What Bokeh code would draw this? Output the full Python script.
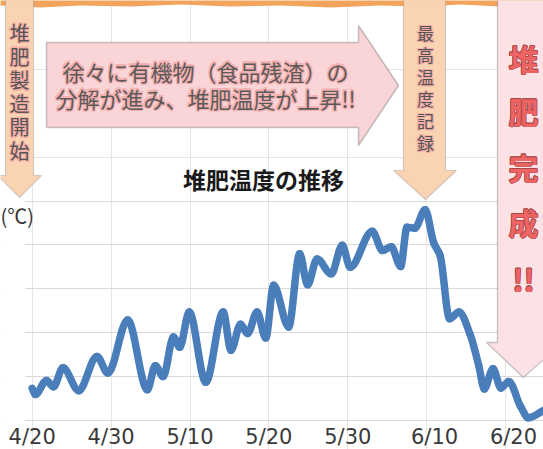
from bokeh.plotting import figure
from bokeh.models import Range1d, FixedTicker, Grid, Label, PolyAnnotation, LinearAxis, BoxAnnotation
from bokeh.embed import file_html
from bokeh.resources import INLINE

# ---------------- data ----------------
# days counted from 4/20, and compost temperature (deg C) at the curve's turning points
day_offset = [0.0, 0.4, 1.8, 2.7, 3.9, 5.9, 8.2, 9.6, 12.1, 14.6, 15.6, 16.6, 17.9, 18.7,
              19.9, 22.0, 24.2, 25.2, 26.4, 27.3, 28.5, 29.6, 30.6, 32.5, 33.9, 34.9,
              36.1, 37.9, 39.3, 40.3, 43.1, 44.4, 45.5, 46.7, 47.5, 48.5, 49.8, 50.9,
              51.7, 52.9, 54.1, 55.5, 56.6, 57.3, 58.4, 59.4, 60.4, 61.9, 62.9, 64.8]
temperature = [27.3, 25.9, 29.1, 27.7, 32.0, 26.8, 34.6, 30.8, 42.9, 27.0, 32.5, 30.0, 39.0, 36.7,
               44.7, 28.7, 44.7, 36.0, 41.9, 39.8, 44.7, 38.8, 50.8, 41.3, 58.0, 50.9,
               56.8, 53.4, 59.9, 54.9, 63.1, 58.7, 59.6, 55.1, 64.0, 63.8, 68.0, 60.4,
               57.6, 43.2, 44.7, 39.6, 32.5, 27.2, 31.8, 27.4, 28.9, 23.2, 20.6, 22.3]
tick_days = [0, 10, 20, 30, 40, 51, 61]
tick_labels = ["4/20", "4/30", "5/10", "5/20", "5/30", "6/10", "6/20"]
grid_temps = [20, 30, 40, 50, 60, 70]

# ---------------- layout constants ----------------
W, H = 543, 449
X0PX, PX_PER_DAY = 31.7, 7.89
Y20PX, PX_PER_DEG = 420.0, 4.39


def fx(px):
    return (px - X0PX) / PX_PER_DAY


def fy(py):
    return 20 + (Y20PX - py) / PX_PER_DEG


p = figure(width=W, height=H, output_backend="svg", toolbar_location=None,
           x_range=Range1d(fx(0), fx(W)), y_range=Range1d(fy(H), fy(0)),
           x_axis_location=None, y_axis_location=None,
           min_border_left=0, min_border_right=0, min_border_top=0,
           min_border_bottom=0,
           background_fill_color="white", border_fill_color="white",
           outline_line_color=None)

p.add_layout(Grid(dimension=1, ticker=FixedTicker(ticks=grid_temps),
                  grid_line_color="#d9d9d9", grid_line_width=1))
# the gridlines start at x = 25 px in the original
p.add_layout(BoxAnnotation(left=fx(-5), right=fx(25), bottom=fy(H + 5), top=fy(-5),
                           fill_color="white", fill_alpha=1.0, line_color=None,
                           level="underlay"))

xaxis = LinearAxis(ticker=FixedTicker(ticks=tick_days), fixed_location=grid_temps[0],
                   major_label_overrides={d: l for d, l in zip(tick_days, tick_labels)},
                   axis_line_color=None, major_tick_line_color=None,
                   minor_tick_line_color=None, major_tick_out=0, major_tick_in=0,
                   major_label_standoff=4, major_label_text_font_size="21px",
                   major_label_text_font="DejaVu Sans", major_label_text_color="#3a3a3a")
p.add_layout(xaxis, "below")

# ---------------- smooth line (monotone cubic through the read points) ----------------
n = len(day_offset)
h = [day_offset[i + 1] - day_offset[i] for i in range(n - 1)]
dl = [(temperature[i + 1] - temperature[i]) / h[i] for i in range(n - 1)]
m = [0.0] * n
m[0], m[-1] = dl[0], dl[-1]
for k in range(1, n - 1):
    if dl[k - 1] * dl[k] <= 0:
        m[k] = 0.0
    else:
        w1 = 2 * h[k] + h[k - 1]
        w2 = h[k] + 2 * h[k - 1]
        m[k] = (w1 + w2) / (w1 / dl[k - 1] + w2 / dl[k])
x0 = day_offset[:-1]; y0 = temperature[:-1]
x1 = day_offset[1:]; y1 = temperature[1:]
cx0 = [day_offset[i] + h[i] / 3 for i in range(n - 1)]
cy0 = [temperature[i] + m[i] * h[i] / 3 for i in range(n - 1)]
cx1 = [day_offset[i + 1] - h[i] / 3 for i in range(n - 1)]
cy1 = [temperature[i + 1] - m[i + 1] * h[i] / 3 for i in range(n - 1)]
p.bezier(x0=x0, y0=y0, x1=x1, y1=y1, cx0=cx0, cy0=cy0, cx1=cx1, cy1=cy1,
         line_color="#4a7ebb", line_width=7.5, line_cap="round", line_join="round")


# ---------------- decorations (given in pixel positions) ----------------
def poly(xs, ys, fill, line="#5a5a5a", lw=1.2):
    p.add_layout(PolyAnnotation(xs=[fx(v) for v in xs], ys=[fy(v) for v in ys],
                                fill_color=fill, fill_alpha=1.0, line_color=line,
                                line_width=lw, level="overlay"))


GLOW = [(-1, 0), (1, 0), (0, -1), (0, 1), (-0.8, -0.8), (0.8, 0.8), (-0.8, 0.8), (0.8, -0.8)]


def text(x, y, s, size, color, glow=None, bold=False, font="Noto Sans CJK JP",
         align="center", r=1.0):
    style = "bold" if bold else "normal"
    if glow:
        for dx, dy in GLOW:
            p.add_layout(Label(x=fx(x), y=fy(y), text=s,
                               x_offset=dx * r, y_offset=dy * r, text_font=font,
                               text_font_size=f"{size}px", text_color=glow,
                               text_font_style=style,
                               text_align=align, text_baseline="middle", level="overlay"))
    p.add_layout(Label(x=fx(x), y=fy(y), text=s,
                       text_font=font, text_font_size=f"{size}px", text_color=color,
                       text_font_style=style,
                       text_align=align, text_baseline="middle", level="overlay"))


# orange band at the top
poly([-2, 545, 545, 500, 460, 420, 380, 330, 280, 230, 180, 130, 80, 40, -2],
     [-2, -2, 5, 6, 4, 6, 5, 7, 5, 6, 4, 6, 5, 7, 5], "#f2a45c", line=None, lw=0)

# left arrow: 堆肥製造開始
poly([5, 33, 33, 41, 19, -3, 5], [-2, -2, 175, 175, 197, 175, 175], "#fad3b2", "#7a7a7a", 1.2)
for i, ch in enumerate("堆肥製造開始"):
    text(19, 32 + i * 23.6, ch, 20, "#555555", glow="#f6b0a8", r=1.3)

# long right-pointing arrow
poly([46, 358, 358, 398, 358, 358, 46], [42, 42, 25, 85, 145, 127, 127], "#fad5d8", "#4a4a4a", 1.5)
text(205, 70, "徐々に有機物（食品残渣）の", 22, "#5a5a5a", glow="#f5b0b0", r=1.3)
text(205, 97, "分解が進み、堆肥温度が上昇!!", 22, "#5a5a5a", glow="#f5b0b0", r=1.3)

# middle arrow: 最高温度記録
poly([403, 445, 445, 456, 425, 393, 403], [-2, -2, 170, 170, 199, 170, 170], "#fad3b2", "#7a7a7a", 1.2)
for i, ch in enumerate("最高温度記録"):
    text(425, 32 + i * 22, ch, 17, "#555555", glow="#f6b0a8", r=1.2)

# big right arrow: 堆肥完成!!
poly([497, 552, 552, 562, 523, 486, 497], [-2, -2, 342, 342, 377, 342, 342], "#fde2e5", "#4a4a4a", 1.3)
for ch, yy in zip(["堆", "肥", "完", "成", "!!"], [57, 110, 166, 221, 278]):
    text(523, yy, ch, 30, "#ee6464", glow="#a84848", bold=True, r=0.7)

# chart title and unit
text(263, 178, "堆肥温度の推移", 23, "#1a1a1a", bold=True)
text(0, 215, "(℃)", 20, "#333333", align="left")

open("out.html", "w").write(file_html(p, INLINE))
